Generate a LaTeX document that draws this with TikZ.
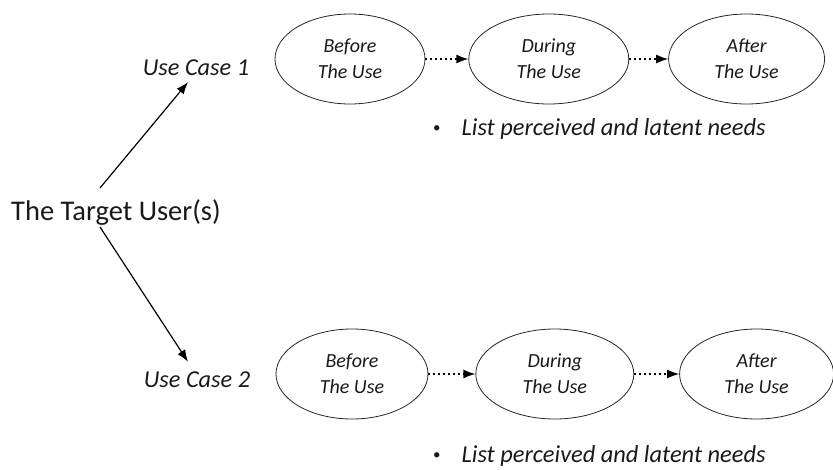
\documentclass[tikz,border=0pt]{standalone}
\usepackage{fontspec}
\setmainfont{Carlito}
\usetikzlibrary{positioning, shapes.geometric, arrows.meta}

\newcommand{\needdot}{\raisebox{3pt}{\fontsize{15}{15}\selectfont\textbullet}}

\begin{document}
\begin{tikzpicture}[
  x=1pt, y=-1pt,
  >={Latex[length=12pt,width=9pt]},
  text=black!90,
  phase/.style={draw=black!85, line width=0.8pt, ellipse, inner sep=0pt,
    minimum width=152pt, minimum height=90pt, align=center,
    font=\fontsize{20}{26}\selectfont\itshape},
  usecase/.style={inner sep=0pt, font=\fontsize{24.3}{29}\selectfont\itshape},
  need/.style={anchor=west, inner sep=0pt, font=\fontsize{24.4}{29}\selectfont},
  flow/.style={->, line width=1.4pt, dash pattern=on 1.4pt off 3.6pt},
  link/.style={->, line width=1.2pt}
]
  \useasboundingbox (0,0) rectangle (833,469);

  \node[inner sep=0pt, font=\fontsize{28.5}{34}\selectfont] (target) at (116,213) {The Target User(s)};

  % use case 1
  \node[usecase] (uc1) at (196,68) {Use Case 1};
  \node[phase, minimum width=150pt] (before1) at (350,59) {Before\\The Use};
  \node[phase, right=43pt of before1, minimum width=160pt] (during1) {During\\The Use};
  \node[phase, right=39pt of during1, minimum width=156pt] (after1) {After\\The Use};
  \node[need] (needs1) at (433,129) {\needdot\hspace{21pt}\textit{List perceived and latent needs}};

  % use case 2
  \node[usecase] (uc2) at (197,380) {Use Case 2};
  \node[phase, minimum width=152pt] (before2) at (352,374) {Before\\The Use};
  \node[phase, right=47pt of before2, minimum width=158pt] (during2) {During\\The Use};
  \node[phase, right=45pt of during2, minimum width=154pt] (after2) {After\\The Use};
  \node[need] (needs2) at (433,456) {\needdot\hspace{21pt}\textit{List perceived and latent needs}};

  \coordinate (up) at (100,188);
  \coordinate (down) at (100,227);

  \draw[link] (up) -- ([xshift=-8pt,yshift=-6pt]uc1.south);
  \draw[link] (down) -- ([xshift=-9pt,yshift=10pt]uc2.north);

  \draw[flow] (before1) -- (during1);
  \draw[flow] (during1) -- (after1);
  \draw[flow] (before2) -- (during2);
  \draw[flow] (during2) -- (after2);
\end{tikzpicture}
\end{document}
